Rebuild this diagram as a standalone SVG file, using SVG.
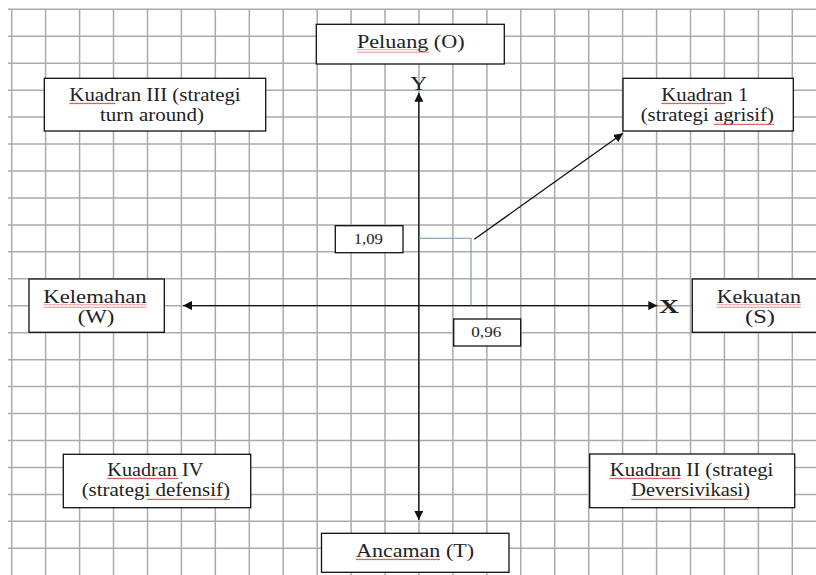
<svg xmlns="http://www.w3.org/2000/svg" width="816" height="575" viewBox="0 0 816 575">
<style>
.grid{stroke:#ababab;stroke-width:1.5;fill:none}
.box{fill:#fff;stroke:#111;stroke-width:1.3}
.t{font-family:"Liberation Serif","Times New Roman",serif;font-size:18px;fill:#222;text-anchor:middle}
.n{font-family:"Liberation Serif","Times New Roman",serif;font-size:14px;fill:#222;text-anchor:middle}
.ax{stroke:#111;stroke-width:1.3;fill:none}
.sq{fill:url(#squig)}
</style>
<defs>
<marker id="ah" viewBox="0 0 10 10" refX="10" refY="5" markerWidth="9" markerHeight="9" markerUnits="userSpaceOnUse" orient="auto-start-reverse">
<path d="M0,0 L10,5 L0,10 z" fill="#111"/>
</marker>
<pattern id="squig" patternUnits="userSpaceOnUse" width="4" height="3">
<path d="M0,2.2 L1,0.8 L2,2.2 L3,0.8 L4,2.2" stroke="#d03a3a" stroke-width="0.8" fill="none"/>
</pattern>
</defs>
<rect width="816" height="575" fill="#fff"/>
<g id="grid">
<path class="grid" d="M11.7,9.3V575 M45.6,9.3V575 M79.6,9.3V575 M113.5,9.3V575 M147.5,9.3V575 M181.4,9.3V575 M215.3,9.3V575 M249.3,9.3V575 M283.2,9.3V575 M317.2,9.3V575 M351.1,9.3V575 M385,9.3V575 M419,9.3V575 M452.9,9.3V575 M486.9,9.3V575 M520.8,9.3V575 M554.7,9.3V575 M588.7,9.3V575 M622.6,9.3V575 M656.6,9.3V575 M690.5,9.3V575 M724.4,9.3V575 M758.4,9.3V575 M792.3,9.3V575"/>
<path class="grid" d="M8,9.3H816 M8,36.25H816 M8,63.2H816 M8,90.15H816 M8,117.1H816 M8,144.05H816 M8,171H816 M8,197.95H816 M8,224.9H816 M8,251.85H816 M8,278.8H816 M8,305.75H816 M8,332.7H816 M8,359.65H816 M8,386.6H816 M8,413.55H816 M8,440.5H816 M8,467.45H816 M8,494.4H816 M8,521.35H816 M8,548.3H816"/>
</g>
<g id="connectors">
<path class="ax" d="M418.8,520 V92.7" marker-start="url(#ah)" marker-end="url(#ah)"/>
<path class="ax" d="M183,305.6 H657.3" marker-start="url(#ah)" marker-end="url(#ah)"/>
<path d="M419,238.3 H471 V305.6" fill="none" stroke="#6f95b8" stroke-width="1.1"/>
<path class="ax" d="M474.3,239.3 L623,133.3" marker-end="url(#ah)"/>
</g>
<g id="axis-labels">
<text class="t" x="418.8" y="90" font-size="20" textLength="17" lengthAdjust="spacingAndGlyphs">Y</text>
<text class="t" x="669" y="312.8" font-size="19" font-weight="bold" textLength="20" lengthAdjust="spacingAndGlyphs">X</text>
</g>
<g id="peluang">
<rect class="box" x="316.3" y="24.3" width="188" height="39.7"/>
<text class="t" x="410.8" y="48.3" textLength="107.7" lengthAdjust="spacingAndGlyphs">Peluang (O)</text>
<rect class="sq" x="357" y="49.5" width="72" height="3"/>
</g>
<g id="kuadran3">
<rect class="box" x="44.3" y="78.3" width="221.4" height="52.7"/>
<text class="t" x="155" y="100.7" textLength="171.3" lengthAdjust="spacingAndGlyphs">Kuadran III (strategi</text>
<text class="t" x="152" y="120.7" textLength="104" lengthAdjust="spacingAndGlyphs">turn around)</text>
<rect class="sq" x="69.3" y="102" width="46" height="3"/>
</g>
<g id="kuadran1">
<rect class="box" x="623" y="78.3" width="170.3" height="52.7"/>
<text class="t" x="704.8" y="100.7" textLength="87" lengthAdjust="spacingAndGlyphs">Kuadran 1</text>
<text class="t" x="707.3" y="120.7" textLength="133.3" lengthAdjust="spacingAndGlyphs">(strategi agrisif)</text>
<rect class="sq" x="661.3" y="102" width="64" height="3"/>
<rect class="sq" x="714" y="122" width="60" height="3"/>
</g>
<g id="kelemahan">
<rect class="box" x="29" y="279" width="135.3" height="53.3"/>
<text class="t" x="95" y="303.3" textLength="103.3" lengthAdjust="spacingAndGlyphs">Kelemahan</text>
<text class="t" x="96" y="323.3" textLength="36.7" lengthAdjust="spacingAndGlyphs">(W)</text>
<rect class="sq" x="43.3" y="304.5" width="103.4" height="3"/>
</g>
<g id="kekuatan">
<rect class="box" x="692.3" y="279" width="135" height="53.3"/>
<text class="t" x="758.8" y="303.3" textLength="84.3" lengthAdjust="spacingAndGlyphs">Kekuatan</text>
<text class="t" x="760" y="323.3" textLength="30" lengthAdjust="spacingAndGlyphs">(S)</text>
<rect class="sq" x="716.7" y="304.5" width="84.3" height="3"/>
</g>
<g id="val-y">
<rect class="box" x="335.3" y="225.7" width="67.7" height="27"/>
<text class="n" x="368.3" y="243.5" textLength="29.3" lengthAdjust="spacingAndGlyphs">1,09</text>
</g>
<g id="val-x">
<rect class="box" x="453.7" y="319" width="67" height="27"/>
<text class="n" x="486.3" y="337" textLength="30" lengthAdjust="spacingAndGlyphs">0,96</text>
</g>
<g id="kuadran4">
<rect class="box" x="63.3" y="454.3" width="187.4" height="53.4"/>
<text class="t" x="155.3" y="475.7" textLength="96" lengthAdjust="spacingAndGlyphs">Kuadran IV</text>
<text class="t" x="155.8" y="496" textLength="148.3" lengthAdjust="spacingAndGlyphs">(strategi defensif)</text>
<rect class="sq" x="107.3" y="477" width="71" height="3"/>
<rect class="sq" x="146.7" y="497.3" width="83.3" height="3"/>
</g>
<g id="kuadran2">
<rect class="box" x="589.7" y="454" width="205" height="53.7"/>
<text class="t" x="691.5" y="475.7" textLength="163.7" lengthAdjust="spacingAndGlyphs">Kuadran II (strategi</text>
<text class="t" x="690.7" y="496" textLength="118.7" lengthAdjust="spacingAndGlyphs">Deversivikasi)</text>
<rect class="sq" x="609.7" y="477" width="71" height="3"/>
<rect class="sq" x="631.3" y="497.3" width="116.7" height="3"/>
</g>
<g id="ancaman">
<rect class="box" x="321.5" y="533.3" width="187.5" height="39"/>
<text class="t" x="415" y="556.7" textLength="118" lengthAdjust="spacingAndGlyphs">Ancaman (T)</text>
<rect class="sq" x="356" y="558" width="84" height="3"/>
</g>
</svg>
